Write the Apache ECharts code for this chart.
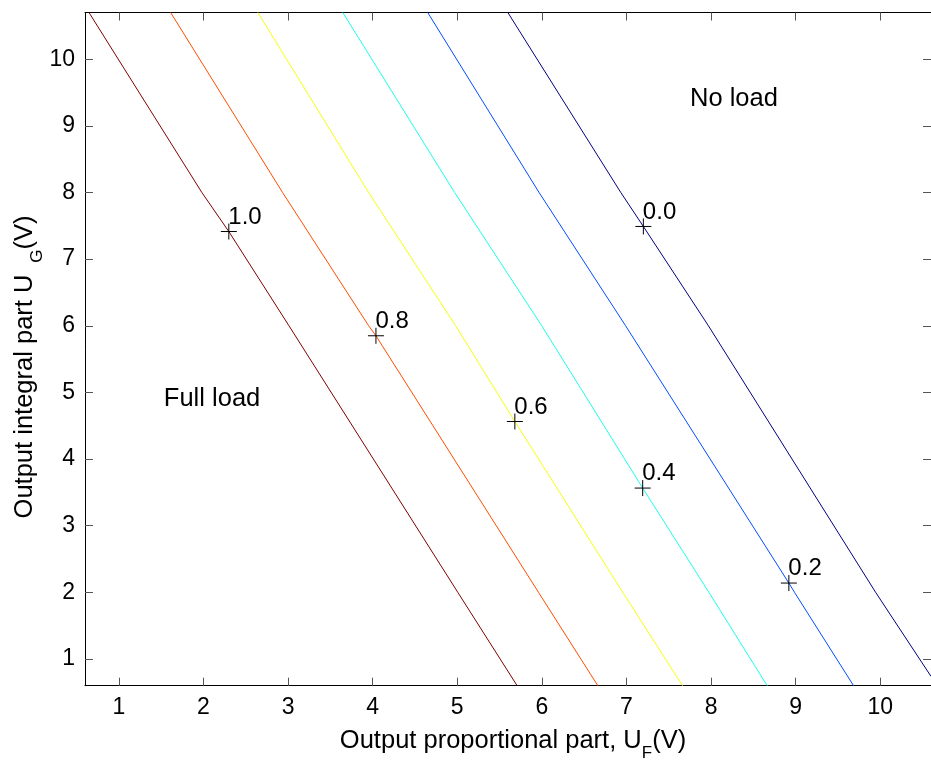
<!DOCTYPE html>
<html><head><meta charset="utf-8">
<script src="https://cdn.jsdelivr.net/npm/echarts@6/dist/echarts.min.js"></script>
<style>html,body{margin:0;padding:0;background:#fff}#c{width:931px;height:761px}</style>
</head><body><div id="c"></div>
<script>
const FONT = 'Liberation Sans, Arial, Helvetica, sans-serif';
const xTicks = [1, 2, 3, 4, 5, 6, 7, 8, 9, 10];
const yTicks = [1, 2, 3, 4, 5, 6, 7, 8, 9, 10];
const xRange = [0.6, 10.6];
const yRange = [0.6, 10.7];

// contour lines (load level)
const level10 = [[0.647, 10.7], [1.981, 8], [2.30, 7.414], [3.011, 6], [5.007, 2], [5.708, 0.6]];
const level08 = [[1.612, 10.7], [2.935, 8], [3.953, 6], [4.039, 5.85], [5.961, 2], [6.662, 0.6]];
const level06 = [[2.643, 10.7], [3.952, 8], [4.982, 6], [5.681, 4.564], [6.957, 2], [7.663, 0.6]];
const level04 = [[3.647, 10.7], [4.969, 8], [5.999, 6], [7.192, 3.565], [7.975, 2], [8.664, 0.6]];
const level02 = [[4.651, 10.7], [5.967, 8], [6.990, 6], [8.920, 2.140], [8.987, 2], [9.685, 0.6]];
const level00 = [[5.598, 10.7], [6.933, 8], [7.200, 7.49], [7.969, 6], [9.946, 2], [10.6, 0.74]];
const levelColors = ['#800000', '#ff4d00', '#f6ff08', '#1affe6', '#004dff', '#000080'];

// "+" markers with their labels
const markers = [[2.30, 7.414, '1.0'], [4.039, 5.85, '0.8'], [5.681, 4.564, '0.6'],
                 [7.192, 3.565, '0.4'], [8.920, 2.140, '0.2'], [7.200, 7.49, '0.0']];
const notes = [[1.538, 4.89, 'Full load'], [7.757, 9.39, 'No load']];

const chart = echarts.init(document.getElementById('c'), null, {renderer: 'canvas'});

function xAx(pos, labels) {
  return {
    type: 'value', position: pos, min: xRange[0], max: xRange[1],
    axisLine: {show: true, onZero: false, lineStyle: {color: '#000', width: 1}},
    axisTick: {show: true, inside: true, length: 8, customValues: xTicks, lineStyle: {color: '#555', width: 1}},
    axisLabel: {show: labels, customValues: xTicks, margin: 10, fontSize: 23, color: '#000', fontFamily: FONT},
    splitLine: {show: false}
  };
}
function yAx(pos, labels) {
  return {
    type: 'value', position: pos, min: yRange[0], max: yRange[1],
    axisLine: {show: true, onZero: false, lineStyle: {color: '#000', width: 1}},
    axisTick: {show: true, inside: true, length: 8, customValues: yTicks, lineStyle: {color: '#555', width: 1}},
    axisLabel: {show: labels, customValues: yTicks, margin: 10, fontSize: 23, color: '#000', fontFamily: FONT},
    splitLine: {show: false}
  };
}

const levels = [level10, level08, level06, level04, level02, level00];
const series = levels.map((d, i) => ({
  type: 'line', data: d, showSymbol: false, symbol: 'none', clip: true,
  lineStyle: {color: levelColors[i], width: 1}, silent: true, z: 2
}));
series.push({
  type: 'scatter', data: markers, symbol: 'path://M0,8 L16,8 M8,0 L8,16', symbolSize: 16,
  itemStyle: {color: 'none', borderColor: '#000', borderWidth: 1, opacity: 1}, silent: true, z: 3,
  label: {show: true, formatter: p => p.data[2], position: [10, -4], align: 'left', verticalAlign: 'middle',
          fontSize: 24, color: '#000', opacity: 1, textBorderWidth: 0, fontFamily: FONT}
});
series.push({
  type: 'scatter', data: notes, symbolSize: 1, itemStyle: {color: 'rgba(0,0,0,0)'}, silent: true, z: 3,
  label: {show: true, formatter: p => p.data[2], position: [0, 0], align: 'left', verticalAlign: 'middle',
          fontSize: 25.5, color: '#000', opacity: 1, textBorderWidth: 0, fontFamily: FONT}
});

const titleRich = {
  a: {fontSize: 25.5, lineHeight: 28, verticalAlign: 'top', fontFamily: FONT, color: '#000'},
  s: {fontSize: 17, lineHeight: 34, verticalAlign: 'bottom', fontFamily: FONT, color: '#000'}
};

chart.setOption({
  animation: false,
  backgroundColor: '#fff',
  grid: {left: 85, right: -3, top: 12.5, bottom: 75.3, containLabel: false},
  xAxis: [xAx('bottom', true), xAx('top', false)],
  yAxis: [yAx('left', true), yAx('right', false)],
  series: series,
  graphic: [
    {type: 'text', x: 513, y: 745, silent: true,
     style: {text: '{a|Output proportional part, U}{s|F}{a|(V)}', rich: titleRich, align: 'center', verticalAlign: 'middle'}},
    {type: 'text', x: 29, y: 367, rotation: Math.PI / 2, silent: true,
     style: {text: '{a|Output integral part U }{s| G}{a|(V)}', rich: titleRich, align: 'center', verticalAlign: 'middle'}}
  ]
});
</script>
</body></html>
